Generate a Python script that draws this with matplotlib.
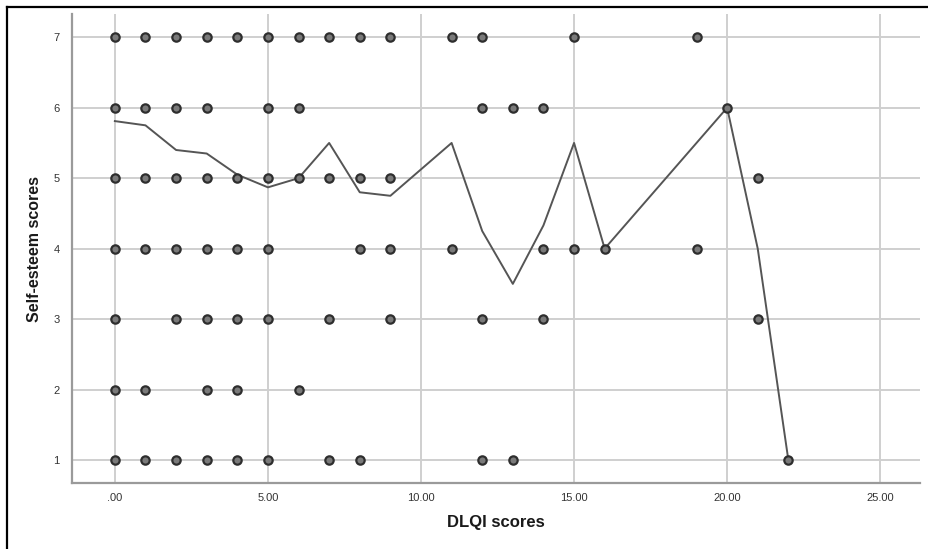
import matplotlib
matplotlib.use('Agg')
import matplotlib.pyplot as plt
from matplotlib.lines import Line2D
from matplotlib.ticker import FuncFormatter

plt.rcParams['font.family'] = ['Liberation Sans', 'DejaVu Sans']

# DLQI score values present at each self-esteem level
dlqi_at_7 = [0, 1, 2, 3, 4, 5, 6, 7, 8, 9, 11, 12, 15, 19]
dlqi_at_6 = [0, 1, 2, 3, 5, 6, 12, 13, 14, 20]
dlqi_at_5 = [0, 1, 2, 3, 4, 5, 6, 7, 8, 9, 21]
dlqi_at_4 = [0, 1, 2, 3, 4, 5, 8, 9, 11, 14, 15, 16, 19]
dlqi_at_3 = [0, 2, 3, 4, 5, 7, 9, 12, 14, 21]
dlqi_at_2 = [0, 1, 3, 4, 6]
dlqi_at_1 = [0, 1, 2, 3, 4, 5, 7, 8, 12, 13, 22]

# mean self-esteem by DLQI score (the connecting line)
line_x = [0, 1, 2, 3, 4, 5, 6, 7, 8, 9, 11, 12, 13, 14, 15, 16, 19, 20, 21, 22]
line_y = [5.81, 5.75, 5.40, 5.35, 5.05, 4.87, 5.0, 5.5, 4.8, 4.75,
          5.5, 4.25, 3.5, 4.33, 5.5, 4.0, 5.5, 6.0, 4.0, 1.0]

x_ticks = [0, 5, 10, 15, 20, 25]
y_ticks = [1, 2, 3, 4, 5, 6, 7]

fig = plt.figure(figsize=(9.29, 5.49), dpi=100)
ax = fig.add_axes([0.0775, 0.1202, 0.9128, 0.8543])

grid_col = '#cfcfcf'
for xt in x_ticks:
    ax.axvline(xt, color=grid_col, linewidth=1.4, zorder=0)
for yt in y_ticks:
    ax.axhline(yt, color=grid_col, linewidth=1.4, zorder=0)

ax.plot(line_x, line_y, color='#555555', linewidth=1.4, zorder=2)

rows = [(7, dlqi_at_7), (6, dlqi_at_6), (5, dlqi_at_5), (4, dlqi_at_4),
        (3, dlqi_at_3), (2, dlqi_at_2), (1, dlqi_at_1)]
for level, xs in rows:
    ax.scatter(xs, [level] * len(xs), s=36, facecolor='#7a7a7a',
               edgecolor='#2e2e2e', linewidth=1.6, zorder=3)

ax.set_xlim(-1.4, 26.3)
ax.set_ylim(0.674, 7.33)
ax.set_xticks(x_ticks)
ax.set_yticks(y_ticks)
ax.xaxis.set_major_formatter(FuncFormatter(
    lambda v, p: '.00' if v == 0 else f'{v:.2f}'))
ax.tick_params(axis='both', length=0, labelsize=8, colors='#333333')
ax.tick_params(axis='x', pad=7)
ax.tick_params(axis='y', pad=9)

for side in ['top', 'right']:
    ax.spines[side].set_visible(False)
for side in ['left', 'bottom']:
    ax.spines[side].set_color('#9a9a9a')
    ax.spines[side].set_linewidth(1.6)

fig.text(496 / 929, 1 - 523 / 549, 'DLQI scores', ha='center', va='center',
         fontsize=12, fontweight='bold', color='#1a1a1a')
fig.text(35 / 929, 1 - 249 / 549, 'Self-esteem scores', ha='center', va='center',
         rotation=90, fontsize=11.5, fontweight='bold', color='#1a1a1a')

# black frame on the left and top edges
fig.add_artist(Line2D([7 / 929, 7 / 929], [0, 1 - 7 / 549],
                      transform=fig.transFigure, color='black', linewidth=1.6))
fig.add_artist(Line2D([7 / 929, 1], [1 - 7 / 549, 1 - 7 / 549],
                      transform=fig.transFigure, color='black', linewidth=1.6))

fig.savefig('out.png', dpi=100, facecolor='white')
